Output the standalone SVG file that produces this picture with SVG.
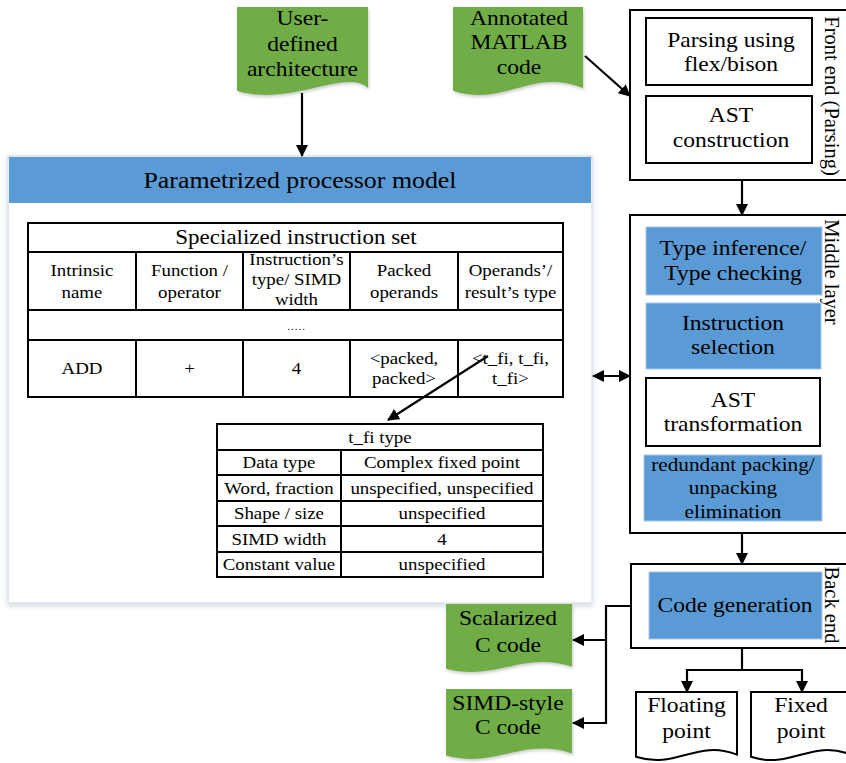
<svg xmlns="http://www.w3.org/2000/svg" width="846" height="763" viewBox="0 0 846 763">
<style>
.t{font-family:"Liberation Serif","Times New Roman",serif;text-anchor:middle;fill:#000}
.s{transform-box:fill-box;transform-origin:center;transform:scaleX(1.15)}
.f20{font-size:20.5px}
.f18{font-size:18.5px}
.f16{font-size:16.4px}
.box{fill:none;stroke:#000;stroke-width:2}
.wbox{fill:#fff;stroke:#000;stroke-width:2}
.blue{fill:#5b9bd5;stroke:#a9c6e8;stroke-width:1}
.green{fill:#70ad47}
.doc{fill:#fff;stroke:#000;stroke-width:2}
.cn{fill:none;stroke:#000;stroke-width:2.2}
.grid{fill:none;stroke:#000;stroke-width:2}
</style>
<defs>
<marker id="ah" viewBox="0 0 12 12" refX="11" refY="6" markerWidth="12" markerHeight="12" markerUnits="userSpaceOnUse" orient="auto-start-reverse">
<path d="M0,0 L12,6 L0,12 Z" fill="#000"/>
</marker>
<filter id="sh" x="-10%" y="-10%" width="120%" height="120%">
<feDropShadow dx="0" dy="2" stdDeviation="3" flood-color="#8fa6c2" flood-opacity="0.45"/>
</filter>
<filter id="gsh" x="-10%" y="-10%" width="125%" height="125%">
<feDropShadow dx="1" dy="2" stdDeviation="1.5" flood-color="#555" flood-opacity="0.3"/>
</filter>
</defs>

<!-- Parametrized processor model panel -->
<g id="processor-model">
<rect x="8" y="156" width="584" height="447" fill="#fff" stroke="#dde4ec" stroke-width="1.5" filter="url(#sh)"/>
<rect x="9" y="157" width="582" height="46" fill="#5b9bd5"/>
<text class="t s" x="300" y="188" font-size="22.5">Parametrized processor model</text>
</g>

<g id="instruction-table">
<rect class="grid" x="28" y="223" width="535" height="174"/>
<line class="grid" x1="28" y1="252" x2="563" y2="252"/>
<line class="grid" x1="28" y1="310" x2="563" y2="310"/>
<line class="grid" x1="28" y1="340" x2="563" y2="340"/>
<line class="grid" x1="136" y1="252" x2="136" y2="310"/>
<line class="grid" x1="243" y1="252" x2="243" y2="310"/>
<line class="grid" x1="350" y1="252" x2="350" y2="310"/>
<line class="grid" x1="458" y1="252" x2="458" y2="310"/>
<line class="grid" x1="136" y1="340" x2="136" y2="397"/>
<line class="grid" x1="243" y1="340" x2="243" y2="397"/>
<line class="grid" x1="350" y1="340" x2="350" y2="397"/>
<line class="grid" x1="458" y1="340" x2="458" y2="397"/>
<text class="t s" x="296" y="244" font-size="20">Specialized instruction set</text>
<text class="t s f16" x="82" y="276">Intrinsic</text>
<text class="t s f16" x="82" y="298">name</text>
<text class="t s f16" x="189.5" y="276">Function /</text>
<text class="t s f16" x="189.5" y="298">operator</text>
<text class="t s f16" x="296.5" y="265">Instruction’s</text>
<text class="t s f16" x="296.5" y="285">type/ SIMD</text>
<text class="t s f16" x="296.5" y="305">width</text>
<text class="t s f16" x="404" y="276">Packed</text>
<text class="t s f16" x="404" y="298">operands</text>
<text class="t s f16" x="510.5" y="276">Operands’/</text>
<text class="t s f16" x="510.5" y="298">result’s type</text>
<text class="t" x="296.5" y="330" font-size="11" letter-spacing="1">.....</text>
<text class="t s f16" x="82" y="374">ADD</text>
<text class="t s f16" x="189.5" y="374">+</text>
<text class="t s f16" x="296.5" y="374">4</text>
<text class="t s f16" x="404" y="364">&lt;packed,</text>
<text class="t s f16" x="404" y="384">packed&gt;</text>
<text class="t s f16" x="510.5" y="364">&lt;t_fi, t_fi,</text>
<text class="t s f16" x="510.5" y="384">t_fi&gt;</text>
</g>

<g id="tfi-table">
<rect class="grid" x="217" y="424" width="326" height="153"/>
<line class="grid" x1="217" y1="450" x2="543" y2="450"/>
<line class="grid" x1="217" y1="475" x2="543" y2="475"/>
<line class="grid" x1="217" y1="501" x2="543" y2="501"/>
<line class="grid" x1="217" y1="526" x2="543" y2="526"/>
<line class="grid" x1="217" y1="552" x2="543" y2="552"/>
<line class="grid" x1="341" y1="450" x2="341" y2="577"/>
<text class="t s f16" x="380" y="443">t_fi type</text>
<text class="t s f16" x="279" y="468">Data type</text>
<text class="t s f16" x="442" y="468">Complex fixed point</text>
<text class="t s f16" x="279" y="494">Word, fraction</text>
<text class="t s f16" x="442" y="494">unspecified, unspecified</text>
<text class="t s f16" x="279" y="519">Shape / size</text>
<text class="t s f16" x="442" y="519">unspecified</text>
<text class="t s f16" x="279" y="545">SIMD width</text>
<text class="t s f16" x="442" y="545">4</text>
<text class="t s f16" x="279" y="570">Constant value</text>
<text class="t s f16" x="442" y="570">unspecified</text>
</g>

<!-- Input documents -->
<g id="user-defined-architecture">
<path class="green" filter="url(#gsh)" d="M237,7 H368 V88 C346.6,67.5 289.4,107.4 237,90.7 Z"/>
<text class="t s f20" x="302.5" y="25">User-</text>
<text class="t s f20" x="302.5" y="51">defined</text>
<text class="t s f20" x="302.5" y="76">architecture</text>
</g>
<g id="annotated-matlab">
<path class="green" filter="url(#gsh)" d="M453,7 H583 V88 C531,67.5 505,107.4 453,90.7 Z"/>
<text class="t s f20" x="519" y="25">Annotated</text>
<text class="t s f20" x="519" y="49">MATLAB</text>
<text class="t s f20" x="519" y="74">code</text>
</g>

<!-- Front end -->
<g id="front-end">
<rect x="630" y="10" width="222" height="170" class="box"/>
<text class="t" font-size="20.5" transform="translate(825,96) rotate(90)">Front end (Parsing)</text>
</g>
<g id="parsing">
<rect class="wbox" x="646" y="18" width="166" height="67"/>
<text class="t s f20" x="731" y="47">Parsing using</text>
<text class="t s f20" x="731" y="71">flex/bison</text>
</g>
<g id="ast-construction">
<rect class="wbox" x="646" y="96" width="166" height="67"/>
<text class="t s f20" x="731" y="122">AST</text>
<text class="t s f20" x="731" y="147">construction</text>
</g>

<!-- Middle layer -->
<g id="middle-layer">
<rect x="630" y="215" width="222" height="318" class="box"/>
<text class="t" font-size="20.5" transform="translate(825,272) rotate(90)">Middle layer</text>
</g>
<g id="type-inference">
<rect class="blue" x="646" y="227" width="176" height="68"/>
<text class="t s f20" x="733" y="255">Type inference/</text>
<text class="t s f20" x="733" y="280">Type checking</text>
</g>
<g id="instruction-selection">
<rect class="blue" x="646" y="303" width="175" height="66"/>
<text class="t s f20" x="733" y="330">Instruction</text>
<text class="t s f20" x="733" y="354">selection</text>
</g>
<g id="ast-transformation">
<rect class="wbox" x="646" y="378" width="174" height="68"/>
<text class="t s f20" x="733" y="407">AST</text>
<text class="t s f20" x="733" y="431">transformation</text>
</g>
<g id="redundant-packing">
<rect class="blue" x="644" y="455" width="178" height="66"/>
<text class="t s f18" x="733" y="471">redundant packing/</text>
<text class="t s f18" x="733" y="494">unpacking</text>
<text class="t s f18" x="733" y="518">elimination</text>
</g>

<!-- Back end -->
<g id="back-end">
<rect x="631" y="564" width="221" height="84" class="box"/>
<text class="t" font-size="20.5" transform="translate(825,605) rotate(90)">Back end</text>
</g>
<g id="code-generation">
<rect class="blue" x="649" y="572" width="173" height="67"/>
<text class="t s f20" x="735" y="612">Code generation</text>
</g>

<!-- Output documents -->
<g id="scalarized-c">
<path class="green" filter="url(#gsh)" d="M446,604 H572 V666.6 C521.6,650.8 496.4,681.8 446,668.8 Z"/>
<text class="t s f20" x="508" y="625">Scalarized</text>
<text class="t s f20" x="508" y="652">C code</text>
</g>
<g id="simd-c">
<path class="green" filter="url(#gsh)" d="M446,689 H572 V753.4 C521.6,737 496.4,769 446,755.6 Z"/>
<text class="t s f20" x="508" y="710">SIMD-style</text>
<text class="t s f20" x="508" y="734">C code</text>
</g>
<g id="floating-point">
<path class="doc" d="M636,692 H737 V754.6 C696.6,738.8 676.4,769.8 636,756.8 Z"/>
<text class="t s f20" x="686.5" y="712">Floating</text>
<text class="t s f20" x="686.5" y="738">point</text>
</g>
<g id="fixed-point">
<path class="doc" d="M751,692 H851 V754.6 C811,738.8 791,769.8 751,756.8 Z"/>
<text class="t s f20" x="801" y="712">Fixed</text>
<text class="t s f20" x="801" y="738">point</text>
</g>

<!-- Connectors -->
<g id="connectors">
<line class="cn" x1="302" y1="93" x2="302" y2="156" marker-end="url(#ah)"/>
<line class="cn" x1="585" y1="56" x2="630" y2="96" marker-end="url(#ah)"/>
<line class="cn" x1="742" y1="180" x2="742" y2="215" marker-end="url(#ah)"/>
<line class="cn" x1="742" y1="533" x2="742" y2="564" marker-end="url(#ah)"/>
<line class="cn" x1="593" y1="376" x2="630" y2="376" marker-start="url(#ah)" marker-end="url(#ah)"/>
<line class="cn" x1="488" y1="356" x2="388" y2="420" marker-end="url(#ah)"/>
<polyline class="cn" points="631,606 606,606 606,723 573,723" marker-end="url(#ah)"/>
<line class="cn" x1="606" y1="640" x2="573" y2="640" marker-end="url(#ah)"/>
<line class="cn" x1="742" y1="648" x2="742" y2="670"/>
<line class="cn" x1="686" y1="670" x2="803" y2="670"/>
<line class="cn" x1="687" y1="669" x2="687" y2="692" marker-end="url(#ah)"/>
<line class="cn" x1="802" y1="669" x2="802" y2="692" marker-end="url(#ah)"/>
</g>
</svg>
